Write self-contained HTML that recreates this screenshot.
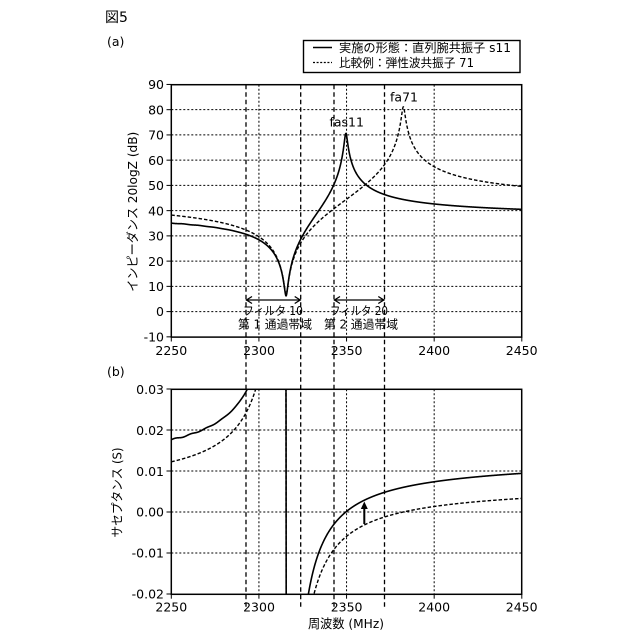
<!DOCTYPE html>
<html><head><meta charset="utf-8"><style>
html,body{margin:0;padding:0;background:#fff;width:640px;height:640px;overflow:hidden;}
svg{display:block;}
text{font-family:"DejaVu Sans","Liberation Sans","Noto Sans CJK JP",sans-serif;fill:#000;}
</style></head><body>
<svg id="s" width="640" height="640" viewBox="0 0 640 640" xmlns="http://www.w3.org/2000/svg">
<defs>
<clipPath id="ct"><rect x="171.3" y="84.7" width="350.4" height="252.4"/></clipPath>
<clipPath id="cb"><rect x="171.3" y="389.3" width="350.4" height="205"/></clipPath>
</defs>
<rect width="640" height="640" fill="#fff"/>
<text x="105" y="22" font-size="14">図5</text>
<text x="107" y="46" font-size="12.5">(a)</text>
<text x="107" y="376" font-size="12.5">(b)</text>

<!-- legend -->
<rect x="303.5" y="40.5" width="216.5" height="32" fill="#fff" stroke="#000" stroke-width="1.4"/>
<line x1="313" y1="47.5" x2="332" y2="47.5" stroke="#000" stroke-width="1.5"/>
<line x1="313" y1="62.5" x2="332" y2="62.5" stroke="#000" stroke-width="1.3" stroke-dasharray="2 1.6"/>
<text x="339" y="51.8" font-size="12" textLength="172" lengthAdjust="spacingAndGlyphs">実施の形態：直列腕共振子 s11</text>
<text x="339" y="66.8" font-size="12" textLength="135" lengthAdjust="spacingAndGlyphs">比較例：弾性波共振子 71</text>

<g id="grid" stroke="#000" stroke-width="1" stroke-dasharray="2 2" fill="none"></g>
<g id="band" stroke="#000" stroke-width="1.3" stroke-dasharray="4.5 3" fill="none"></g>
<g id="curves" fill="none" stroke="#000"></g>

<!-- frames -->
<rect x="171.3" y="84.7" width="350.4" height="252.4" fill="none" stroke="#000" stroke-width="1.5"/>
<rect x="171.3" y="389.3" width="350.4" height="205" fill="none" stroke="#000" stroke-width="1.5"/>
<g id="ticks" stroke="#000" stroke-width="1"></g>

<g font-size="12.5" text-anchor="end">
<text x="164" y="89.2">90</text>
<text x="164" y="114.4">80</text>
<text x="164" y="139.6">70</text>
<text x="164" y="164.9">60</text>
<text x="164" y="190.1">50</text>
<text x="164" y="215.4">40</text>
<text x="164" y="240.6">30</text>
<text x="164" y="265.9">20</text>
<text x="164" y="291.1">10</text>
<text x="164" y="316.1">0</text>
<text x="164" y="341.5">-10</text>
</g>
<g font-size="12.5" text-anchor="middle">
<text x="171.3" y="355">2250</text>
<text x="259" y="355">2300</text>
<text x="346.6" y="355">2350</text>
<text x="434.2" y="355">2400</text>
<text x="521.7" y="355">2450</text>
<text x="171.3" y="611.5">2250</text>
<text x="259" y="611.5">2300</text>
<text x="346.6" y="611.5">2350</text>
<text x="434.2" y="611.5">2400</text>
<text x="521.7" y="611.5">2450</text>
</g>
<g font-size="12.5" text-anchor="end">
<text x="164" y="393.8">0.03</text>
<text x="164" y="434.8">0.02</text>
<text x="164" y="475.8">0.01</text>
<text x="164" y="516.5">0.00</text>
<text x="164" y="557.5">-0.01</text>
<text x="164" y="598.5">-0.02</text>
</g>

<text transform="translate(132.3,211.7) rotate(-90)" font-size="12.5" text-anchor="middle" dominant-baseline="central" textLength="160" lengthAdjust="spacingAndGlyphs">インピーダンス 20logZ (dB)</text>
<text transform="translate(117,492.5) rotate(-90)" font-size="12.5" text-anchor="middle" dominant-baseline="central" textLength="90" lengthAdjust="spacingAndGlyphs">サセプタンス (S)</text>
<text x="346" y="628" font-size="12.5" text-anchor="middle" textLength="76" lengthAdjust="spacingAndGlyphs">周波数 (MHz)</text>

<text x="346.7" y="126.7" font-size="12.5" text-anchor="middle">fas11</text>
<text x="404" y="101.7" font-size="12.5" text-anchor="middle">fa71</text>

<g stroke="#000" stroke-width="1.3" fill="none">
<line x1="246" y1="300" x2="300.7" y2="300"/>
<polyline points="252,296.5 246.5,300 252,303.5"/>
<polyline points="294.7,296.5 300.2,300 294.7,303.5"/>
<line x1="334" y1="300" x2="384.3" y2="300"/>
<polyline points="340,296.5 334.5,300 340,303.5"/>
<polyline points="378.3,296.5 383.8,300 378.3,303.5"/>
</g>
<text x="273" y="315" font-size="12" text-anchor="middle" textLength="60" lengthAdjust="spacingAndGlyphs">フィルタ 10</text>
<text x="275" y="328.5" font-size="12" text-anchor="middle" textLength="74" lengthAdjust="spacingAndGlyphs">第 1 通過帯域</text>
<text x="359" y="315" font-size="12" text-anchor="middle" textLength="58" lengthAdjust="spacingAndGlyphs">フィルタ 20</text>
<text x="361" y="328.5" font-size="12" text-anchor="middle" textLength="74" lengthAdjust="spacingAndGlyphs">第 2 通過帯域</text>

<line x1="364.3" y1="524" x2="364.3" y2="507" stroke="#000" stroke-width="2"/>
<polygon points="364.3,501.5 360.8,509 367.8,509" fill="#000"/>

<script>
(function(){
var NS="http://www.w3.org/2000/svg";
function X(f){return 171.3+(f-2250)*1.7525;}
function YT(d){return 311.6-d*2.524;}
function YB(b){return 512-b*4100;}
function el(parent,tag,attrs){var e=document.createElementNS(NS,tag);for(var k in attrs)e.setAttribute(k,attrs[k]);parent.appendChild(e);return e;}
var grid=document.getElementById('grid'),band=document.getElementById('band'),ticks=document.getElementById('ticks'),curves=document.getElementById('curves');
for(var d=0;d<=80;d+=10){var y=YT(d);el(grid,'line',{x1:171.3,y1:y,x2:521.7,y2:y});}
[2300,2350,2400].forEach(function(f){el(grid,'line',{x1:X(f),y1:84.7,x2:X(f),y2:337.1});el(grid,'line',{x1:X(f),y1:389.3,x2:X(f),y2:594.3});});
[0.02,0.01,0,-0.01].forEach(function(b){var y=YB(b);el(grid,'line',{x1:171.3,y1:y,x2:521.7,y2:y});});
[246,300.7,334,384.5].forEach(function(x){el(band,'line',{x1:x,y1:84.7,x2:x,y2:607});});
for(var d=-10;d<=90;d+=10){var y=YT(d);el(ticks,'line',{x1:166.5,y1:y,x2:171.3,y2:y});}
[0.03,0.02,0.01,0,-0.01,-0.02].forEach(function(b){var y=YB(b);el(ticks,'line',{x1:166.5,y1:y,x2:171.3,y2:y});});
[2250,2300,2350,2400,2450].forEach(function(f){el(ticks,'line',{x1:X(f),y1:337.1,x2:X(f),y2:341.5});el(ticks,'line',{x1:X(f),y1:594.3,x2:X(f),y2:598.7});});
function model(fr,fa,k,Rm){
  var C0=k/(2*Math.PI*2450e6);
  var Cm=C0*((fa/fr)*(fa/fr)-1);
  var wr=2*Math.PI*fr*1e6;
  var Lm=1/(wr*wr*Cm);
  return function(f){
    var w=2*Math.PI*f*1e6;
    var Xm=w*Lm-1/(w*Cm);
    var den=Rm*Rm+Xm*Xm;
    var G=Rm/den;
    var B=w*C0-Xm/den;
    var mag=Math.sqrt(G*G+B*B);
    return {B:B,z:-20*Math.log10(mag)};
  };
}
var ms=model(2315.5,2349.6,0.01253,2.05);
var md=model(2315.5,2382.4,0.0065,2.2);
function build(m,ripple){
  var pt=[],pb=[];
  for(var f=2250;f<=2450.001;f+=0.04){
    var r=m(f);
    var B=r.B, z=r.z;
    if(ripple && f<2300){var a=0.00015*Math.sin((f-2250)/9*2*Math.PI)*(1-(f-2250)/50);B+=a;z=-20*Math.log10(Math.abs(B));}
    var x=X(f).toFixed(2);
    var yt=YT(z); if(yt<80)yt=80; if(yt>340)yt=340;
    pt.push(x+','+yt.toFixed(2));
    var yb=YB(B); if(yb<385)yb=385; if(yb>598)yb=598;
    pb.push(x+','+yb.toFixed(2));
  }
  return ['M'+pt.join('L'),'M'+pb.join('L')];
}
var d=build(md,false), s=build(ms,true);
el(curves,'path',{d:d[0],'clip-path':'url(#ct)','stroke-width':1.4,'stroke-dasharray':'3.5 2'});
el(curves,'path',{d:d[1],'clip-path':'url(#cb)','stroke-width':1.4,'stroke-dasharray':'3.5 2'});
el(curves,'path',{d:s[0],'clip-path':'url(#ct)','stroke-width':1.6});
el(curves,'path',{d:s[1],'clip-path':'url(#cb)','stroke-width':1.6});
})();
</script>
</svg>
</body></html>
